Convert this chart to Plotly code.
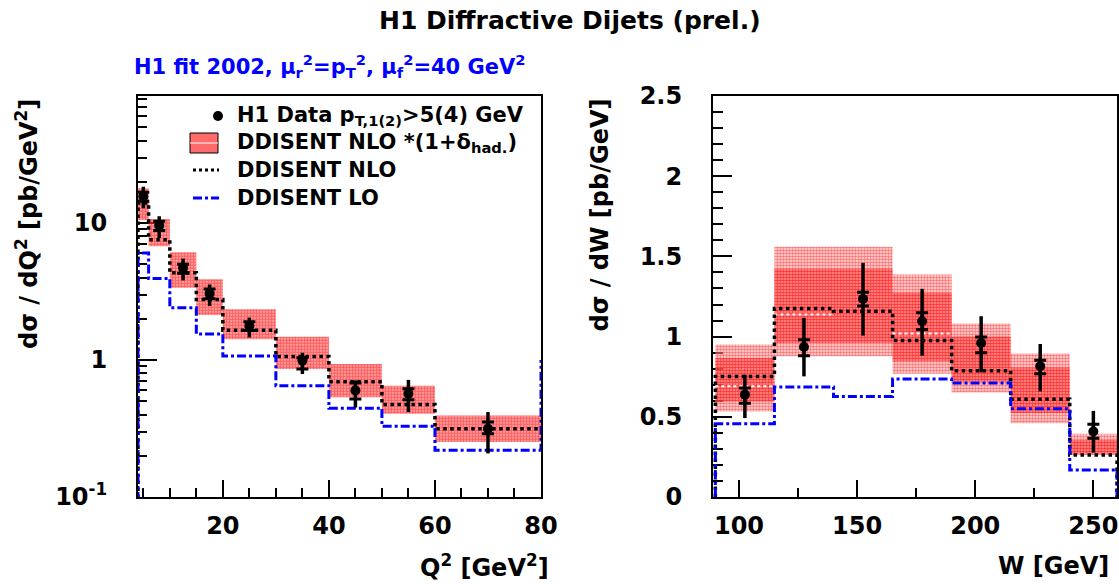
import plotly.graph_objects as go

# ---------------- data: left panel (dsigma/dQ2) ----------------
q2_edges = [4, 6, 10, 15, 20, 30, 40, 50, 60, 80]
q2_centres = [5, 8, 12.5, 17.5, 25, 35, 45, 55, 70]
q2_data = [15.6, 9.6, 4.7, 3.05, 1.77, 0.99, 0.60, 0.567, 0.315]
q2_tot_hi = [18.4, 11.2, 5.5, 3.56, 2.04, 1.13, 0.71, 0.716, 0.417]
q2_tot_lo = [12.8, 7.77, 3.81, 2.48, 1.46, 0.79, 0.45, 0.417, 0.208]
q2_stat_hi = [16.8, 10.3, 5.0, 3.3, 1.9, 1.04, 0.68, 0.616, 0.352]
q2_stat_lo = [14.4, 8.8, 4.3, 2.8, 1.64, 0.86, 0.52, 0.512, 0.29]
q2_band_hi = [17.9, 10.7, 6.11, 3.88, 2.35, 1.48, 0.935, 0.65, 0.394]
q2_band_lo = [10.5, 6.76, 3.37, 2.13, 1.42, 0.86, 0.535, 0.405, 0.252]
q2_nlo = [14.0, 7.56, 4.33, 2.77, 1.65, 1.06, 0.695, 0.473, 0.315]
q2_lo = [6.04, 3.94, 2.41, 1.55, 1.07, 0.65, 0.445, 0.328, 0.219]
q2_lo_overflow = 1.0

# ---------------- data: right panel (dsigma/dW) ----------------
w_edges = [90, 115, 140, 165, 190, 215, 240, 260]
w_centres = [102.5, 127.5, 152.5, 177.5, 202.5, 227.5, 250]
w_data = [0.638, 0.935, 1.235, 1.096, 0.96, 0.815, 0.408]
w_tot_hi = [0.762, 1.117, 1.46, 1.298, 1.127, 0.954, 0.537]
w_tot_lo = [0.492, 0.752, 1.006, 0.881, 0.777, 0.658, 0.277]
w_stat_hi = [0.679, 0.98, 1.277, 1.148, 0.998, 0.852, 0.454]
w_stat_lo = [0.585, 0.881, 1.19, 1.044, 0.90, 0.769, 0.367]
w_outer_hi = [0.95, 1.56, 1.56, 1.3875, 1.081, 0.894, 0.394]
w_outer_lo = [0.533, 0.877, 0.877, 0.769, 0.652, 0.46, 0.2625]
w_inner_hi = [0.867, 1.423, 1.423, 1.273, 1.0, 0.808, 0.356]
w_inner_lo = [0.596, 0.96, 0.96, 0.846, 0.72, 0.523, 0.269]
w_nlo = [0.752, 1.175, 1.158, 0.975, 0.7875, 0.61, 0.2625]
w_lo = [0.456, 0.686, 0.627, 0.735, 0.71, 0.55, 0.169]
w_central = [0.69, 1.1375, None, 1.02, None, None, None]

W_PX, H_PX = 1119, 584
FONT = "DejaVu Sans"


def px(x):
    return x / W_PX


def py(y):
    return 1 - y / H_PX


def steps(edges, vals, start=None, end=None):
    xs, ys = [], []
    if start is not None:
        xs.append(edges[0]); ys.append(start)
    for i, v in enumerate(vals):
        xs += [edges[i], edges[i + 1]]
        ys += [v, v]
    if end is not None:
        xs.append(edges[-1]); ys.append(end)
    return xs, ys


def boxes(edges, lo, hi):
    xs, ys = [], []
    for i in range(len(lo)):
        a, b = edges[i], edges[i + 1]
        xs += [a, b, b, a, a, None]
        ys += [lo[i], lo[i], hi[i], hi[i], lo[i], None]
    return xs, ys


def segments(edges, vals):
    xs, ys = [], []
    for i, v in enumerate(vals):
        if v is None:
            continue
        xs += [edges[i], edges[i + 1], None]
        ys += [v, v, None]
    return xs, ys


fig = go.Figure()


def add_band(edges, lo, hi, xa, ya, solidity, bg):
    bx, by = boxes(edges, lo, hi)
    fig.add_trace(go.Scatter(
        x=bx, y=by, mode="lines", fill="toself", line=dict(width=0),
        fillcolor=bg,
        fillpattern=dict(shape=".", fgcolor="#ff0000", bgcolor=bg, size=3, solidity=solidity),
        xaxis=xa, yaxis=ya, showlegend=False, hoverinfo="skip"))


def add_data(cx, val, thi, tlo, shi, slo, xa, ya):
    fig.add_trace(go.Scatter(
        x=cx, y=val, mode="markers",
        marker=dict(color="black", size=10, symbol="circle"),
        error_y=dict(type="data", symmetric=False,
                     array=[h - v for h, v in zip(thi, val)],
                     arrayminus=[v - l for v, l in zip(val, tlo)],
                     color="black", thickness=3.5, width=0),
        xaxis=xa, yaxis=ya, showlegend=False))
    fig.add_trace(go.Scatter(
        x=cx, y=val, mode="markers", marker=dict(size=0.1, color="black"),
        error_y=dict(type="data", symmetric=False,
                     array=[h - v for h, v in zip(shi, val)],
                     arrayminus=[v - l for v, l in zip(val, slo)],
                     color="black", thickness=3, width=6),
        xaxis=xa, yaxis=ya, showlegend=False))


# ---- left panel ----
add_band(q2_edges, q2_band_lo, q2_band_hi, "x", "y", 0.7, "rgba(255,110,110,0.45)")
sx, sy = steps(q2_edges, q2_nlo, start=1e-3)
fig.add_trace(go.Scatter(x=sx, y=sy, mode="lines", line=dict(color="black", width=3.5, dash="dot"),
                         xaxis="x", yaxis="y", showlegend=False))
sx, sy = steps(q2_edges, q2_lo, start=1e-3, end=q2_lo_overflow)
fig.add_trace(go.Scatter(x=sx, y=sy, mode="lines", line=dict(color="#0000ff", width=3, dash="dashdot"),
                         xaxis="x", yaxis="y", showlegend=False))
add_data(q2_centres, q2_data, q2_tot_hi, q2_tot_lo, q2_stat_hi, q2_stat_lo, "x", "y")

# ---- right panel ----
add_band(w_edges, w_outer_lo, w_outer_hi, "x2", "y2", 0.55, "rgba(255,200,200,0.5)")
add_band(w_edges, w_inner_lo, w_inner_hi, "x2", "y2", 0.65, "rgba(255,90,90,0.45)")
cx, cy = segments(w_edges, w_central)
fig.add_trace(go.Scatter(x=cx, y=cy, mode="lines", line=dict(color="white", width=2, dash="dot"),
                         xaxis="x2", yaxis="y2", showlegend=False, connectgaps=False))
sx, sy = steps(w_edges, w_nlo, start=0, end=0)
fig.add_trace(go.Scatter(x=sx, y=sy, mode="lines", line=dict(color="black", width=3.5, dash="dot"),
                         xaxis="x2", yaxis="y2", showlegend=False))
sx, sy = steps(w_edges, w_lo, start=0, end=0)
fig.add_trace(go.Scatter(x=sx, y=sy, mode="lines", line=dict(color="#0000ff", width=3, dash="dashdot"),
                         xaxis="x2", yaxis="y2", showlegend=False))
add_data(w_centres, w_data, w_tot_hi, w_tot_lo, w_stat_hi, w_stat_lo, "x2", "y2")

tickfont = dict(family=FONT, size=24, color="black", weight="bold")
axis_common = dict(showline=True, linecolor="black", linewidth=2, mirror=True,
                   ticks="inside", tickcolor="black", tickwidth=1.5,
                   showgrid=False, zeroline=False, tickfont=tickfont,
                   automargin=False, layer="below traces")

q2_minor = [m * d for d in (0.1, 1, 10) for m in range(2, 10)]

fig.update_layout(
    width=W_PX, height=H_PX,
    margin=dict(l=0, r=0, t=0, b=0),
    paper_bgcolor="white", plot_bgcolor="white",
    xaxis=dict(domain=[px(138), px(541)], range=[4, 80], tick0=0, dtick=20, ticklen=17,
               minor=dict(ticks="inside", dtick=5, tick0=0, ticklen=9, tickcolor="black", tickwidth=1.5),
               ticklabelstandoff=6, anchor="y", **axis_common),
    yaxis=dict(domain=[py(497), py(96)], type="log", range=[-1, 1.927],
               tickmode="array", tickvals=[0.1, 1, 10],
               ticktext=["10<sup>-1</sup>", "1", "10"], ticklen=19,
               minor=dict(ticks="inside", tickmode="array", tickvals=q2_minor, ticklen=9,
                          tickcolor="black", tickwidth=1.5),
               ticklabelstandoff=24, anchor="x", **axis_common),
    xaxis2=dict(domain=[px(713), px(1117)], range=[89, 260], tick0=0, dtick=50, ticklen=17,
                minor=dict(ticks="inside", dtick=25, tick0=0, ticklen=9, tickcolor="black", tickwidth=1.5),
                ticklabelstandoff=6, anchor="y2", **axis_common),
    yaxis2=dict(domain=[py(497), py(96)], range=[0, 2.5], tick0=0, dtick=0.5, ticklen=19,
                minor=dict(ticks="inside", dtick=0.1, tick0=0, ticklen=10, tickcolor="black", tickwidth=1.5),
                ticklabelstandoff=24, anchor="x2", **axis_common),
)

ann = []
ann.append(dict(x=px(570), y=py(20), xref="paper", yref="paper", showarrow=False,
                text="H1 Diffractive Dijets (prel.)", xanchor="center", yanchor="middle",
                font=dict(family=FONT, size=25, color="black", weight="bold")))
ann.append(dict(x=px(132), y=py(66), xref="paper", yref="paper", showarrow=False,
                text="H1 fit 2002, μ<sub>r</sub><sup>2</sup>=p<sub>T</sub><sup>2</sup>, "
                     "μ<sub>f</sub><sup>2</sup>=40 GeV<sup>2</sup>",
                xanchor="left", yanchor="middle",
                font=dict(family=FONT, size=21, color="#0000ff", weight="bold")))
axt = dict(family=FONT, size=24, color="black", weight="bold")
ann.append(dict(x=px(27), y=py(97), xref="paper", yref="paper", showarrow=False, textangle=-90,
                text="dσ / dQ<sup>2</sup> [pb/GeV<sup>2</sup>]", xanchor="center", yanchor="top", font=axt))
ann.append(dict(x=px(600), y=py(97), xref="paper", yref="paper", showarrow=False, textangle=-90,
                text="dσ / dW [pb/GeV]", xanchor="center", yanchor="top", font=axt))
ann.append(dict(x=px(551), y=py(566), xref="paper", yref="paper", showarrow=False,
                text="Q<sup>2</sup> [GeV<sup>2</sup>]", xanchor="right", yanchor="middle", font=axt))
ann.append(dict(x=px(1111), y=py(566), xref="paper", yref="paper", showarrow=False,
                text="W [GeV]", xanchor="right", yanchor="middle", font=axt))

legf = dict(family=FONT, size=21, color="black", weight="bold")
leg_texts = ["H1 Data p<sub>T,1(2)</sub>&gt;5(4) GeV", "DDISENT NLO *(1+δ<sub>had.</sub>)",
             "DDISENT NLO", "DDISENT LO"]
leg_y = [116, 143, 170, 198]
for t, yy in zip(leg_texts, leg_y):
    ann.append(dict(x=px(235), y=py(yy), xref="paper", yref="paper", showarrow=False,
                    text=t, xanchor="left", yanchor="middle", font=legf))

shapes = []
shapes.append(dict(type="circle", xref="paper", yref="paper",
                   x0=px(213), x1=px(223), y0=py(121), y1=py(111),
                   fillcolor="black", line=dict(color="black", width=0)))
shapes.append(dict(type="rect", xref="paper", yref="paper",
                   x0=px(190), x1=px(218), y0=py(153), y1=py(133),
                   fillcolor="#ff6a6a", line=dict(color="black", width=1)))
shapes.append(dict(type="line", xref="paper", yref="paper",
                   x0=px(190), x1=px(218), y0=py(143), y1=py(143),
                   line=dict(color="white", width=1)))
shapes.append(dict(type="line", xref="paper", yref="paper",
                   x0=px(193), x1=px(219), y0=py(170), y1=py(170),
                   line=dict(color="black", width=3, dash="dot")))
shapes.append(dict(type="line", xref="paper", yref="paper",
                   x0=px(193), x1=px(219), y0=py(198), y1=py(198),
                   line=dict(color="#0000ff", width=3, dash="dashdot")))

fig.update_layout(annotations=ann, shapes=shapes)

fig.write_html("out.html")
